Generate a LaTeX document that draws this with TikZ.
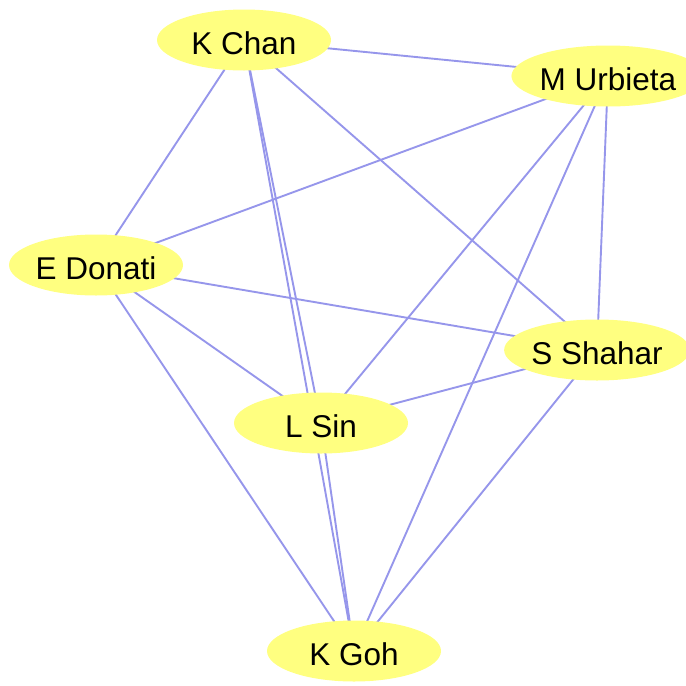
\documentclass[tikz,border=0pt]{standalone}
\usepackage{fontspec}
\setmainfont{Liberation Sans}
\usetikzlibrary{shapes.geometric,backgrounds}
\definecolor{nodefill}{RGB}{255,255,128}
\definecolor{edgecol}{RGB}{150,150,235}
\tikzset{
  person/.style={ellipse, fill=nodefill, draw=none, minimum width=174pt, minimum height=61pt, inner sep=0pt,
    text height=30pt, text depth=0.4pt, font=\fontsize{31.5}{36}\selectfont},
  link/.style={draw=edgecol, line width=1.9pt}
}
\begin{document}
\begin{tikzpicture}[x=1pt,y=-1pt]
\useasboundingbox (0,0) rectangle (686,686);
\begin{scope}
\clip (0,0) rectangle (686,686);
\node[person] (kchan) at (244,40) {K Chan};
\node[person] (murb) at (608,76) {M Urbieta};
\node[person] (edon) at (96,265) {E Donati};
\node[person] (ssha) at (597,350) {S Shahar};
\node[person] (lsin) at (321,423) {L Sin};
\node[person] (kgoh) at (354,651) {K Goh};
\begin{pgfonlayer}{background}
\draw[link] (kchan.center) -- (murb.center);
\draw[link] (kchan.center) -- (edon.center);
\draw[link] (kchan.center) -- (lsin.center);
\draw[link] (kchan.center) -- (kgoh.center);
\draw[link] (kchan.center) -- (ssha.center);
\draw[link] (murb.center) -- (edon.center);
\draw[link] (murb.center) -- (lsin.center);
\draw[link] (murb.center) -- (kgoh.center);
\draw[link] (murb.center) -- (ssha.center);
\draw[link] (edon.center) -- (ssha.center);
\draw[link] (edon.center) -- (lsin.center);
\draw[link] (edon.center) -- (kgoh.center);
\draw[link] (ssha.center) -- (lsin.center);
\draw[link] (ssha.center) -- (kgoh.center);
\draw[link] (lsin.center) -- (kgoh.center);
\end{pgfonlayer}
\end{scope}
\end{tikzpicture}
\end{document}
